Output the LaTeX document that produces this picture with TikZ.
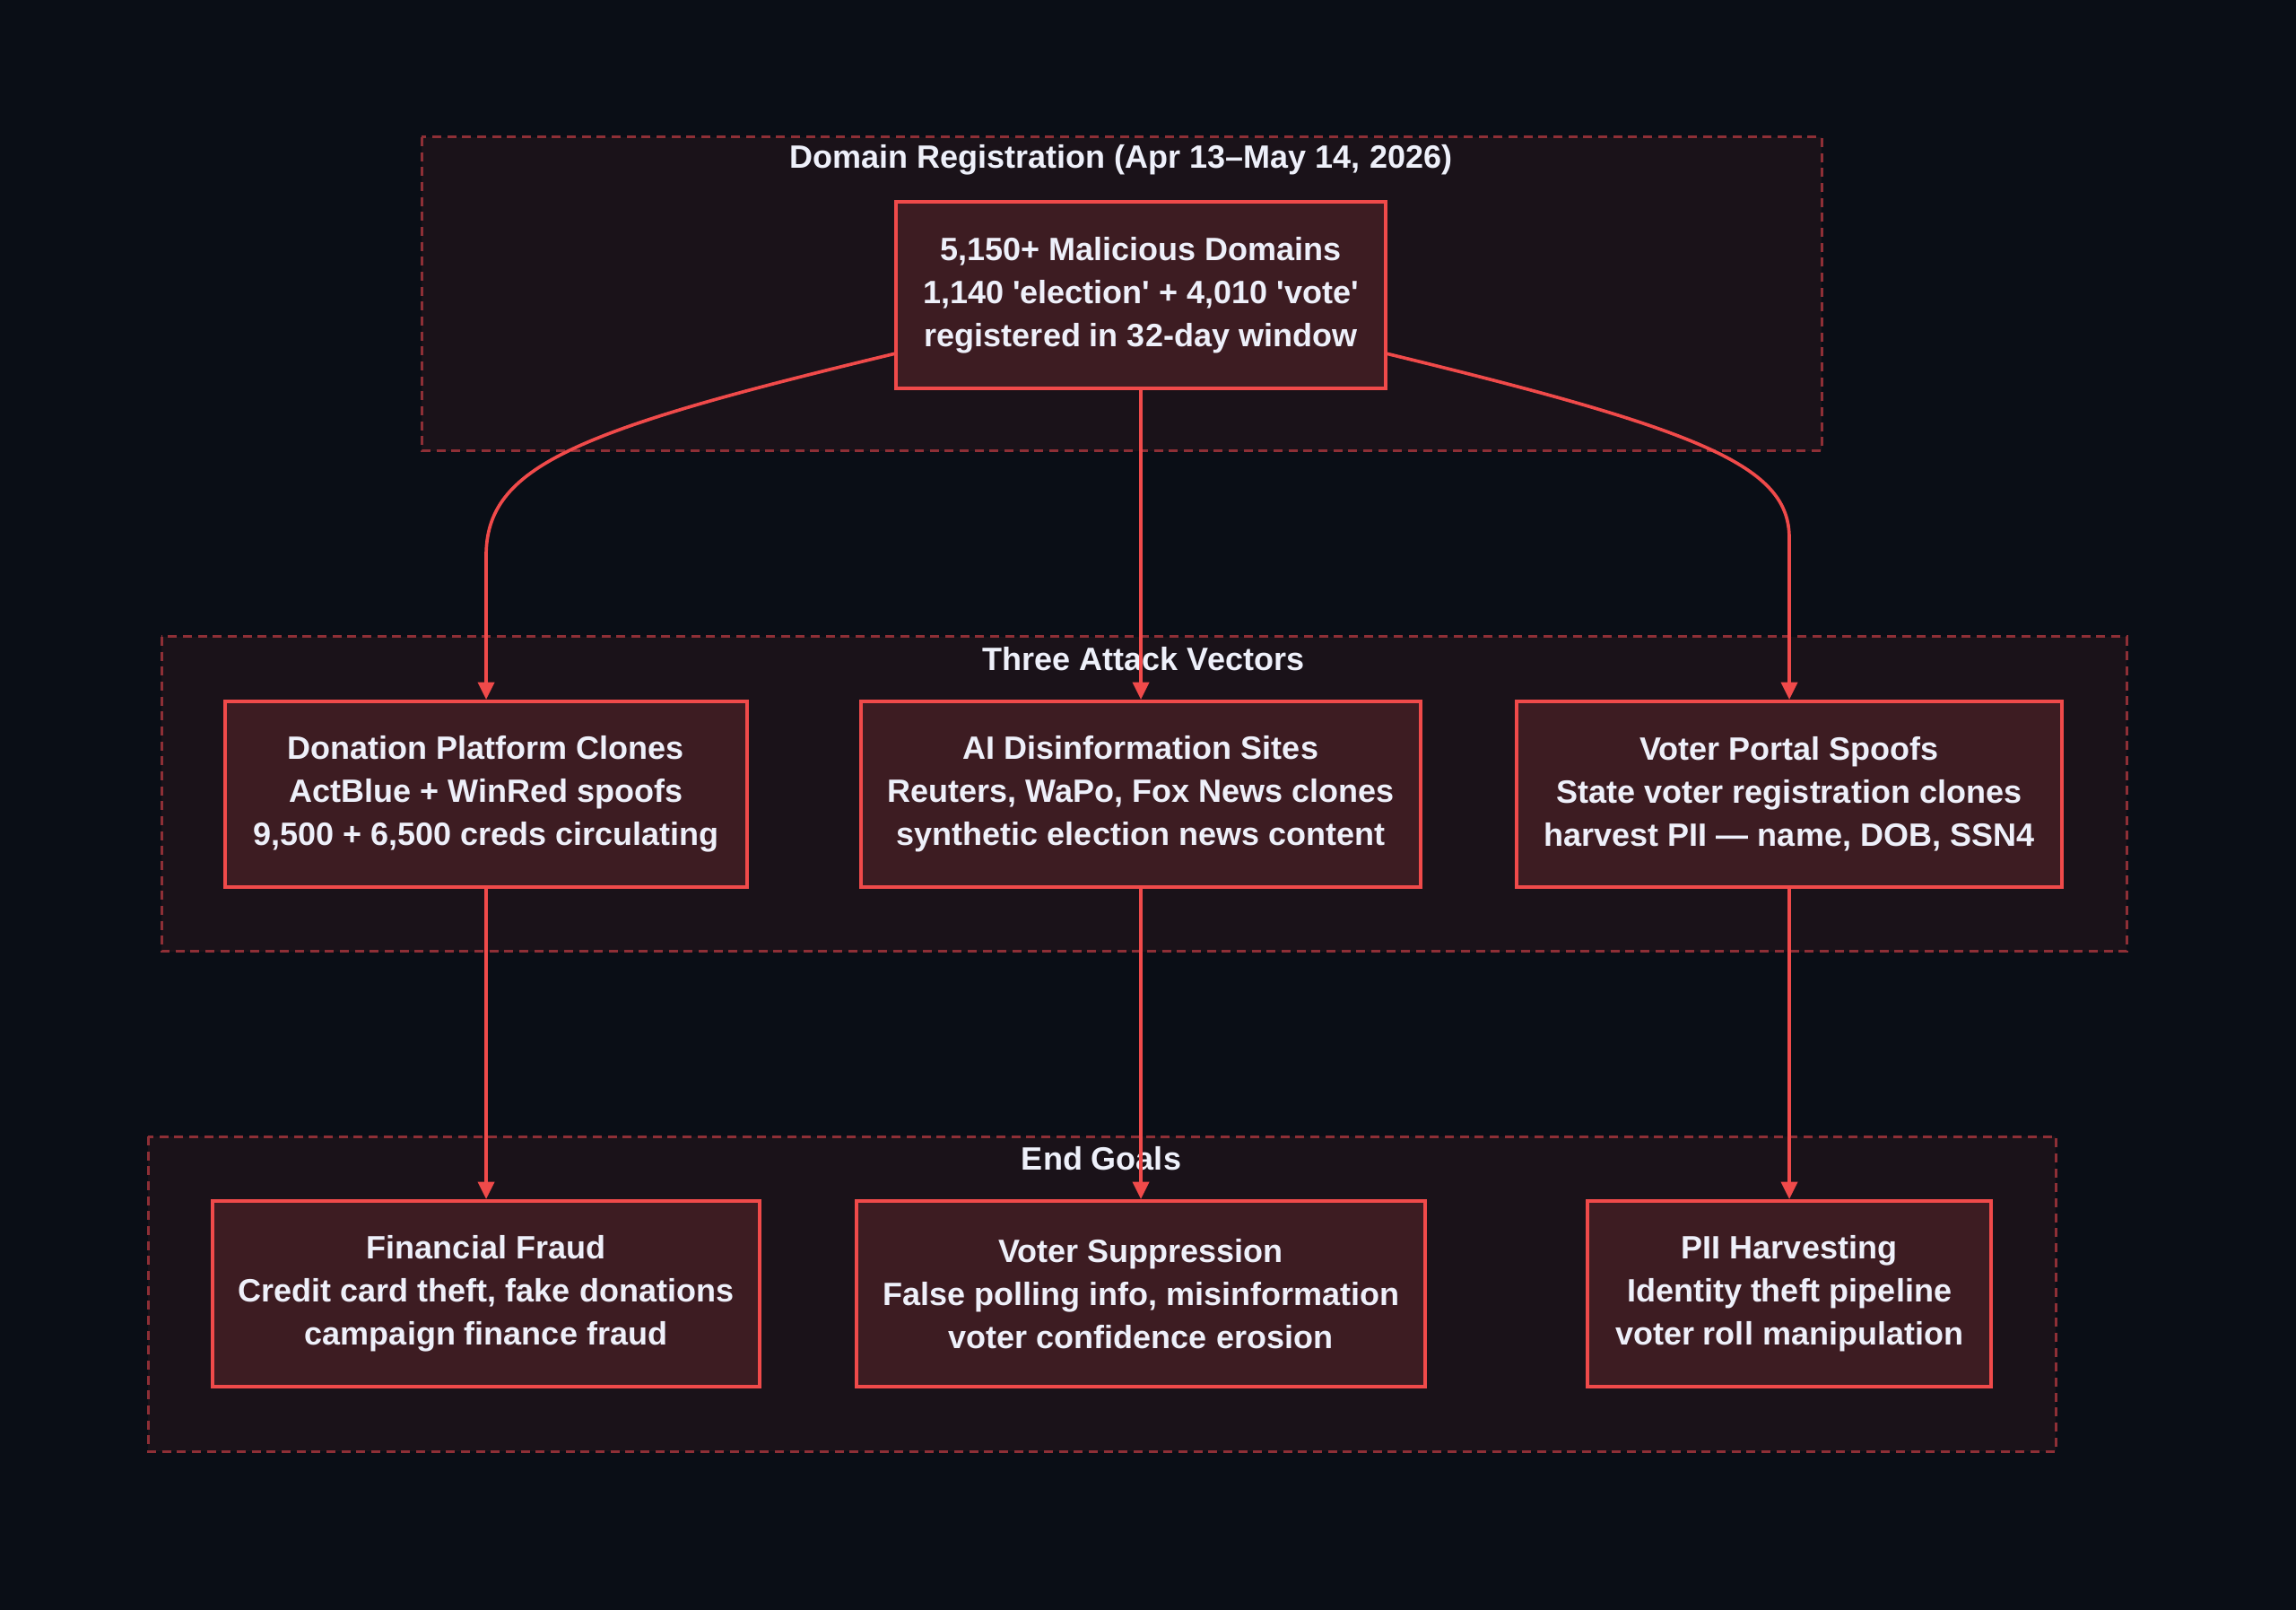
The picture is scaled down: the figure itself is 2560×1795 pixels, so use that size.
\documentclass[tikz,border=0pt]{standalone}
\usepackage{fontspec}
\setmainfont{Liberation Sans}
\usetikzlibrary{arrows.meta}
\definecolor{bgc}{HTML}{0A0E16}
\definecolor{clfill}{HTML}{1A1219}
\definecolor{cldraw}{HTML}{8E2F36}
\definecolor{ndfill}{HTML}{3D1C22}
\definecolor{nddraw}{HTML}{F04A4A}
\definecolor{txt}{HTML}{EEF0FA}
\tikzset{
  clusterbox/.style={draw=cldraw, fill=clfill, line width=0.9pt, dash pattern=on 3pt off 2pt},
  cltitle/.style={text=txt, font=\fontsize{10.8}{12}\selectfont\bfseries, inner sep=0pt},
  box/.style={draw=nddraw, fill=ndfill, line width=1.2pt, text=txt, align=center,
    font=\fontsize{10.8}{14.4}\selectfont\bfseries, inner sep=0pt},
  edge/.style={draw=nddraw, line width=1.1pt, -{Triangle[length=5.8pt,width=5.4pt]}}
}
\begin{document}
\begin{tikzpicture}[x=0.3pt,y=-0.3pt]
\useasboundingbox (0,0) rectangle (2560,1795);
\fill[bgc] (0,0) rectangle (2560,1795);
% clusters
\draw[clusterbox] (470,153) rectangle (2031,503);
\draw[clusterbox] (180,710) rectangle (2371,1061);
\draw[clusterbox] (165,1267) rectangle (2292,1618);
\node[cltitle] (t1) at (1250,178) {Domain Registration (Apr 13–May 14, 2026)};
\node[cltitle] (t2) at (1275,735) {Three Attack Vectors};
\node[cltitle] (t3) at (1228,1292) {End Goals};
% nodes
\node[box, minimum width=546*0.3pt, minimum height=208*0.3pt] (top) at (1272,329)
  {5,150+ Malicious Domains\\1,140 \textquotesingle election\textquotesingle{} + 4,010 \textquotesingle vote\textquotesingle\\registered in 32-day window};
\node[box, minimum width=582*0.3pt, minimum height=207*0.3pt] (don) at (542,885.5)
  {Donation Platform Clones\\ActBlue + WinRed spoofs\\9,500 + 6,500 creds circulating};
\node[box, minimum width=624*0.3pt, minimum height=207*0.3pt] (ai) at (1272,885.5)
  {AI Disinformation Sites\\Reuters, WaPo, Fox News clones\\synthetic election news content};
\node[box, minimum width=608*0.3pt, minimum height=207*0.3pt] (vp) at (1995,885.5)
  {Voter Portal Spoofs\\State voter registration clones\\harvest PII — name, DOB, SSN4};
\node[box, minimum width=610*0.3pt, minimum height=207*0.3pt] (ff) at (542,1442.5)
  {Financial Fraud\\Credit card theft, fake donations\\campaign finance fraud};
\node[box, minimum width=634*0.3pt, minimum height=207*0.3pt] (vs) at (1272,1442.5)
  {Voter Suppression\\False polling info, misinformation\\voter confidence erosion};
\node[box, minimum width=450*0.3pt, minimum height=207*0.3pt] (pii) at (1995,1442.5)
  {PII Harvesting\\Identity theft pipeline\\voter roll manipulation};
% edges
\coordinate (lstart) at (999,394);
\coordinate (rstart) at (1545,394);
\draw[edge] (lstart) .. controls (640,480) and (542,520) .. (542,620) -- (don.north);
\draw[edge] (rstart) .. controls (1900,480) and (1995,520) .. (1995,600) -- (vp.north);
\draw[edge] (top.south) -- (ai.north);
\draw[edge] (don.south) -- (ff.north);
\draw[edge] (ai.south) -- (vs.north);
\draw[edge] (vp.south) -- (pii.north);
\end{tikzpicture}
\end{document}
